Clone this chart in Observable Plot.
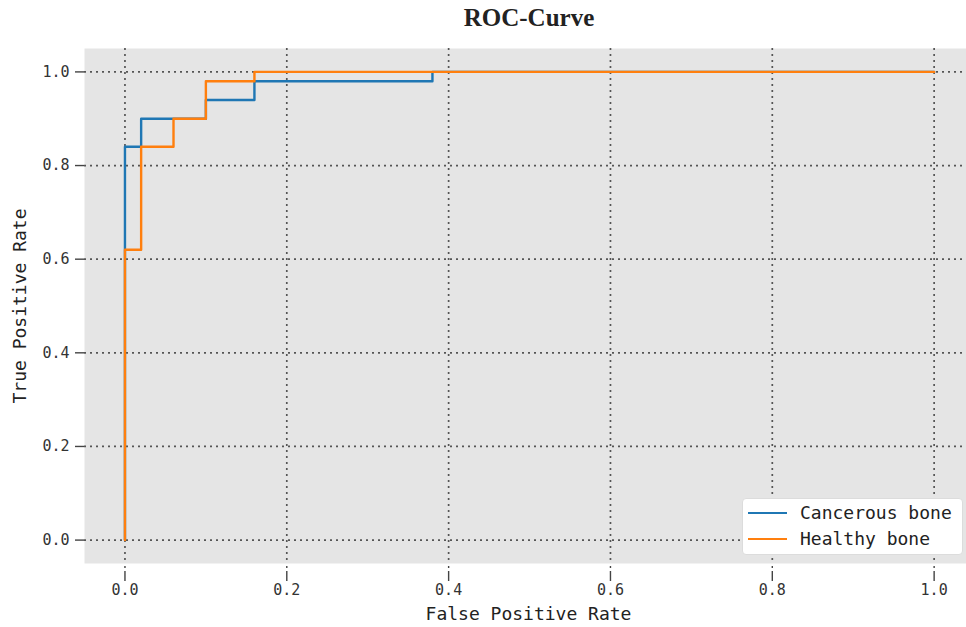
<!DOCTYPE html>
<html>
<head>
<meta charset="utf-8">
<script src="https://cdn.jsdelivr.net/npm/d3@7"></script>
<script src="https://cdn.jsdelivr.net/npm/@observablehq/plot@0.6"></script>
<style>
  body { margin: 0; background: #fff; }
  #wrap { position: relative; width: 966px; height: 627px; overflow: hidden; background: #fff; }
  #title { position: absolute; left: 92px; right: 0; top: 3px; line-height: 30px; text-align: center;
           font-family: "Liberation Serif", "Times New Roman", serif; font-weight: bold; font-size: 25px; color: #222; }
  #chart { position: absolute; left: 0; top: 40px; }
  #legend { position: absolute; left: 742px; top: 498px; width: 221px; height: 57px; box-sizing: border-box;
            background: #fff; border: 1px solid #dcdcdc; border-radius: 4px; }
  .lrow { position: absolute; left: 0; height: 24px; width: 100%; }
  .lsw { position: absolute; left: 5px; width: 39px; height: 2.4px; top: 11px; }
  .ltx { position: absolute; left: 57px; top: 0; line-height: 24px; font-family: "DejaVu Sans Mono", monospace;
         font-size: 18px; color: #222; white-space: nowrap; }
</style>
</head>
<body>
<div id="wrap">
  <div id="title"></div>
  <div id="chart"></div>
  <div id="legend"></div>
</div>
<script>
const titleText = "ROC-Curve";
const xLabel = "False Positive Rate";
const yLabel = "True Positive Rate";
const seriesNames = ["Cancerous bone", "Healthy bone"];
const seriesColors = ["#1f77b4", "#ff7f0e"];

const cancerousFpr = [0, 0, 0.02, 0.02, 0.10, 0.10, 0.16, 0.16, 0.38, 0.38, 1.0];
const cancerousTpr = [0, 0.84, 0.84, 0.90, 0.90, 0.94, 0.94, 0.98, 0.98, 1.0, 1.0];
const healthyFpr = [0, 0, 0.02, 0.02, 0.06, 0.06, 0.10, 0.10, 0.16, 0.16, 1.0];
const healthyTpr = [0, 0.62, 0.62, 0.84, 0.84, 0.90, 0.90, 0.98, 0.98, 1.0, 1.0];

const xTicks = [0.0, 0.2, 0.4, 0.6, 0.8, 1.0];
const yTicks = [0.0, 0.2, 0.4, 0.6, 0.8, 1.0];

const rows = [];
cancerousFpr.forEach((f, i) => rows.push({series: seriesNames[0], fpr: f, tpr: cancerousTpr[i]}));
healthyFpr.forEach((f, i) => rows.push({series: seriesNames[1], fpr: f, tpr: healthyTpr[i]}));

document.getElementById("title").textContent = titleText;

const gridStyle = {stroke: "#555", strokeOpacity: 1, strokeWidth: 1.7, strokeDasharray: "2,4"};

const plot = Plot.plot({
  width: 966,
  height: 587,
  marginLeft: 84,
  marginRight: 0,
  marginTop: 8,
  marginBottom: 64,
  x: {domain: [-0.05, 1.04]},
  y: {domain: [-0.05, 1.05]},
  color: {domain: seriesNames, range: seriesColors},
  style: {fontFamily: "DejaVu Sans Mono, monospace", fontSize: "15px", color: "#333", background: "#fff", overflow: "visible"},
  marks: [
    Plot.frame({fill: "#e5e5e5", stroke: null}),
    Plot.gridX(xTicks, gridStyle),
    Plot.gridY(yTicks, gridStyle),
    Plot.axisX(xTicks, {tickSize: 18, tickPadding: 3, tickFormat: ".1f", label: null,
                        stroke: "#444", strokeWidth: 1.4, strokeDasharray: "0,3,2,3,10"}),
    Plot.axisY(yTicks, {tickSize: 9, tickPadding: 6, tickFormat: ".1f", label: null, stroke: "#444", strokeWidth: 1.4}),
    Plot.line(rows, {x: "fpr", y: "tpr", z: "series", stroke: "series", strokeWidth: 2.4, curve: "linear"}),
    Plot.text([xLabel], {text: d => d, frameAnchor: "bottom", textAnchor: "middle", dx: 3, dy: 51, fontSize: 18, fill: "#222", lineAnchor: "middle"}),
    Plot.text([yLabel], {text: d => d, frameAnchor: "left", textAnchor: "middle", dx: -64, rotate: -90, fontSize: 18, fill: "#222", lineAnchor: "middle"})
  ]
});
document.getElementById("chart").appendChild(plot);

const legend = document.getElementById("legend");
seriesNames.forEach((name, i) => {
  const row = document.createElement("div");
  row.className = "lrow";
  row.style.top = (2 + i * 26) + "px";
  const sw = document.createElement("div");
  sw.className = "lsw";
  sw.style.background = seriesColors[i];
  const tx = document.createElement("div");
  tx.className = "ltx";
  tx.textContent = name;
  row.appendChild(sw);
  row.appendChild(tx);
  legend.appendChild(row);
});
</script>
</body>
</html>
